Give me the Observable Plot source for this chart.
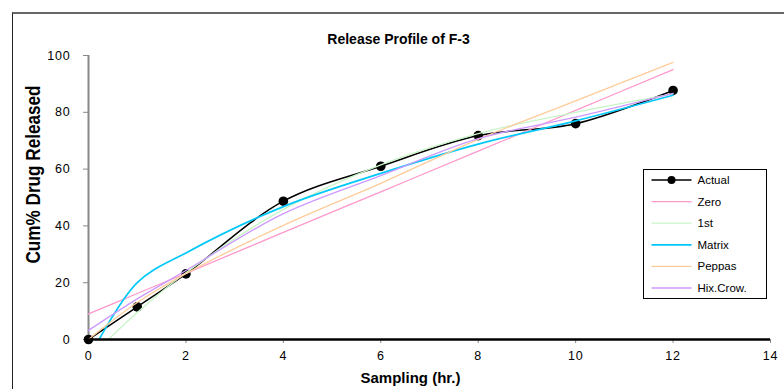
<!DOCTYPE html>
<html><head><meta charset="utf-8">
<script src="https://cdn.jsdelivr.net/npm/d3@7"></script>
<script src="https://cdn.jsdelivr.net/npm/@observablehq/plot@0.6"></script>
<style>
body{margin:0;background:#fff;}
#wrap{position:relative;width:784px;height:389px;overflow:hidden;background:#fff;}
#frame{position:absolute;left:12px;top:12px;width:820px;height:420px;border-left:1.5px solid #222;border-top:2px solid #666;pointer-events:none;}
#chart{position:absolute;left:0;top:0;}
.tick-lbl text{letter-spacing:0.8px;}
</style></head><body><div id="wrap"><div id="chart"></div><div id="frame"></div></div>
<script>
const times=[0,1,2,4,6,8,10,12];
const seriesNames=["Actual","Zero","1st","Matrix","Peppas","Hix.Crow."];
const seriesColors=["#000000","#ff99cc","#c8f5c8","#00c8f8","#ffcc99","#cc99ff"];
const seriesWidths=[1.5,1.3,1.3,1.7,1.3,1.3];
const actual=[0,11.5,23.1,48.7,61,71.8,76,87.7];
const zero=[9,16.2,23.3,37.7,52,66.3,80.7,95];
const first=[-6.9,9.5,23.5,45.8,61.5,72.5,80,86.5];
const matrix=[-6.8,20,30.5,46.8,58.5,68.8,77,86];
const peppas=[0,13,23.2,40.2,55,70.5,84,97.6];
const hixcrow=[3.2,14.3,24.3,44.3,57.7,70.7,78.3,86.7];
const xTicks=[0,2,4,6,8,10,12,14];
const yTicks=[0,20,40,60,80,100];
const titleText="Release Profile of F-3";
const xLabel="Sampling (hr.)";
const yLabel="Cum% Drug Released";

const seriesValues=[actual,zero,first,matrix,peppas,hixcrow];
const rows=[];
seriesValues.forEach((vals,i)=>vals.forEach((v,j)=>rows.push({t:times[j],v,s:seriesNames[i]})));
const actualRows=rows.filter(d=>d.s==="Actual");
const fitMarks=seriesNames.slice(1).map((name,k)=>Plot.line(rows.filter(d=>d.s===name),{
  x:"t",y:"v",stroke:seriesColors[k+1],strokeWidth:seriesWidths[k+1],curve:"catmull-rom",clip:true}));

const font="Liberation Sans, Arial, sans-serif";
const plot=Plot.plot({
  width:784,height:389,
  marginLeft:88,marginRight:14,marginTop:55,marginBottom:50,
  x:{domain:[0,14]},
  y:{domain:[0,100]},
  style:{fontFamily:font,fontSize:"12px",color:"#000",background:"transparent"},
  marks:[
    Plot.axisX({ticks:xTicks,tickSize:4,tickPadding:8,stroke:"#888",label:null,fontSize:12.5,tickFormat:d=>d,className:"tick-lbl"}),
    Plot.axisY({ticks:yTicks,tickSize:5,tickPadding:13,stroke:"#888",label:null,fontSize:12.5,tickFormat:d=>d,className:"tick-lbl"}),
    Plot.ruleX([0],{stroke:"#888",strokeWidth:2}),
    Plot.line(actualRows,{x:"t",y:"v",stroke:seriesColors[0],strokeWidth:seriesWidths[0],curve:"catmull-rom",clip:true}),
    Plot.dot(actualRows,{x:"t",y:"v",r:4.8,fill:"#000",stroke:"none"}),
    ...fitMarks,
    Plot.ruleY([0],{stroke:"#000",strokeWidth:2.5}),
    Plot.text([titleText],{frameAnchor:"top",dx:-31,dy:-16,lineAnchor:"middle",fontSize:14,fontWeight:"bold",fontFamily:font}),
    Plot.text([xLabel],{frameAnchor:"bottom",dx:-19,dy:39,lineAnchor:"middle",fontSize:15,fontWeight:"bold",fontFamily:font}),
    Plot.text([yLabel],{frameAnchor:"left",textAnchor:"middle",dx:-55,dy:-23,rotate:-90,lineAnchor:"middle",fontSize:21,fontWeight:"bold",fontFamily:font,className:"ylab"})
  ]
});
document.getElementById("chart").appendChild(plot);
const svg=d3.select(plot);
svg.selectAll(".ylab text").attr("textLength",178).attr("lengthAdjust","spacingAndGlyphs");

// legend
const lg=svg.append("g").attr("transform","translate(643.5,169.5)");
lg.append("rect").attr("width",123).attr("height",129).attr("fill","#fff").attr("stroke","#000").attr("stroke-width",1);
seriesNames.forEach((name,i)=>{
  const y=10.5+i*21.6;
  lg.append("line").attr("x1",8).attr("x2",48).attr("y1",y).attr("y2",y)
    .attr("stroke",seriesColors[i]).attr("stroke-width",seriesWidths[i]);
  if(i===0) lg.append("circle").attr("cx",28).attr("cy",y).attr("r",4).attr("fill","#000");
  lg.append("text").attr("x",54).attr("y",y).attr("dy","0.35em").attr("font-size",11.5)
    .attr("text-anchor","start").attr("font-family",font).attr("fill","#000").text(name);
});
</script></body></html>
